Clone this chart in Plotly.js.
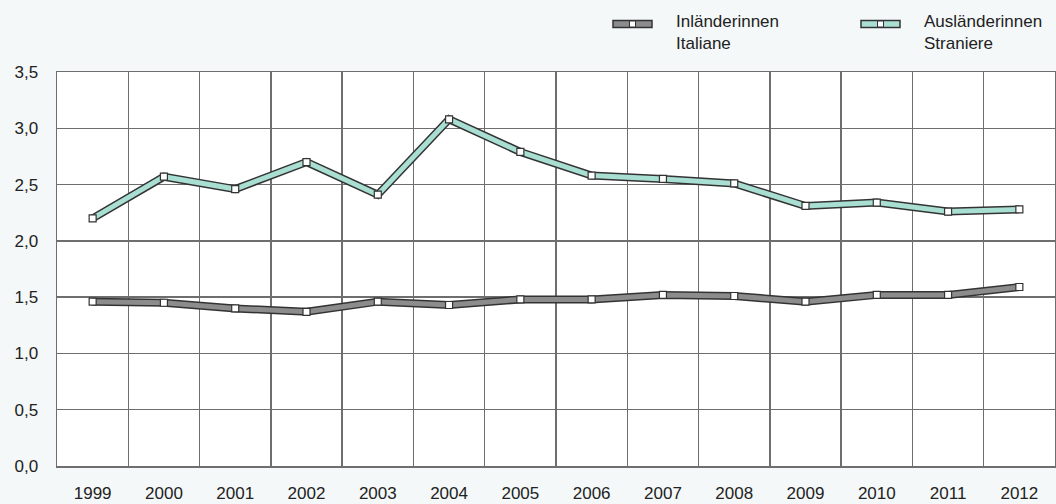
<!DOCTYPE html>
<html><head><meta charset="utf-8">
<script src="https://cdn.plot.ly/plotly-3.0.1.min.js"></script>
<style>html,body{margin:0;padding:0;background:#f4f8f8;}</style>
</head><body>
<div id="chart" style="width:1056px;height:504px;"></div>
<script>
const years = ['1999','2000','2001','2002','2003','2004','2005','2006','2007','2008','2009','2010','2011','2012'];
const italiane = [1.46,1.45,1.40,1.37,1.46,1.43,1.48,1.48,1.52,1.51,1.46,1.52,1.52,1.59];
const straniere = [2.20,2.57,2.46,2.70,2.41,3.08,2.79,2.58,2.55,2.51,2.31,2.34,2.26,2.28];
const seriesNames = ['Inländerinnen<br>Italiane', 'Ausländerinnen<br>Straniere'];
const seriesFill = ['#8c8c8c', '#a9ded2'];
const outline = '#333333';

function band(y, fill, name){
  return [
    {x: years, y: y, type:'scatter', mode:'lines', line:{color:outline, width:8}, showlegend:false, hoverinfo:'skip'},
    {x: years, y: y, type:'scatter', mode:'lines+markers', name: name, showlegend:false,
     line:{color: fill, width:5},
     marker:{symbol:'square', size:7, color:'#ffffff', line:{color:outline, width:1.2}}}
  ];
}
const data = [...band(italiane, seriesFill[0], seriesNames[0]), ...band(straniere, seriesFill[1], seriesNames[1])];

// manual legend (paper-pixel placement)
const W = 1056, H = 504, ml = 57, mr = 1, mt = 72, mb = 38;
const pw = W - ml - mr, ph = H - mt - mb;
const px = v => (v - ml) / pw;          // pixel x -> paper x
const py = v => (H - mb - v) / ph;      // pixel y -> paper y
const legendX = [613, 861];
const shapes = [], annotations = [];
legendX.forEach((lx, i) => {
  shapes.push({type:'rect', xref:'paper', yref:'paper', x0:px(lx), x1:px(lx+39), y0:py(27.5), y1:py(20.5),
               fillcolor: seriesFill[i], line:{color:outline, width:1.5}});
  shapes.push({type:'rect', xref:'paper', yref:'paper', x0:px(lx+16.5), x1:px(lx+22.5), y0:py(27), y1:py(21),
               fillcolor:'#ffffff', line:{color:outline, width:1}});
  annotations.push({xref:'paper', yref:'paper', x:px(lx+61), y:py(10), xanchor:'left', yanchor:'top',
                    text: seriesNames[i], showarrow:false, align:'left', font:{size:17, color:'#222'}});
});

const layout = {
  width:W, height:H,
  paper_bgcolor:'#f4f8f8', plot_bgcolor:'#ffffff',
  margin:{l:ml, r:mr, t:mt, b:mb, autoexpand:false},
  font:{family:'Liberation Sans, Arial, sans-serif', size:17, color:'#222'},
  separators:',.',
  xaxis:{type:'category', tickson:'boundaries', showgrid:true, gridcolor:'#6e6e6e', gridwidth:1.5,
         showline:true, mirror:true, linecolor:'#6e6e6e', linewidth:1.5, ticks:'', ticklabelstandoff:11,
         range:[-0.5,13.5], fixedrange:true},
  yaxis:{range:[0,3.5], dtick:0.5, tickformat:'.1f', showgrid:true, gridcolor:'#6e6e6e', gridwidth:1.5,
         zeroline:false, showline:true, mirror:true, linecolor:'#6e6e6e', linewidth:1.5, ticks:'', ticklabelstandoff:14},
  shapes: shapes, annotations: annotations,
  showlegend:false
};
Plotly.newPlot('chart', data, layout, {displayModeBar:false, staticPlot:true});
</script>
</body></html>
